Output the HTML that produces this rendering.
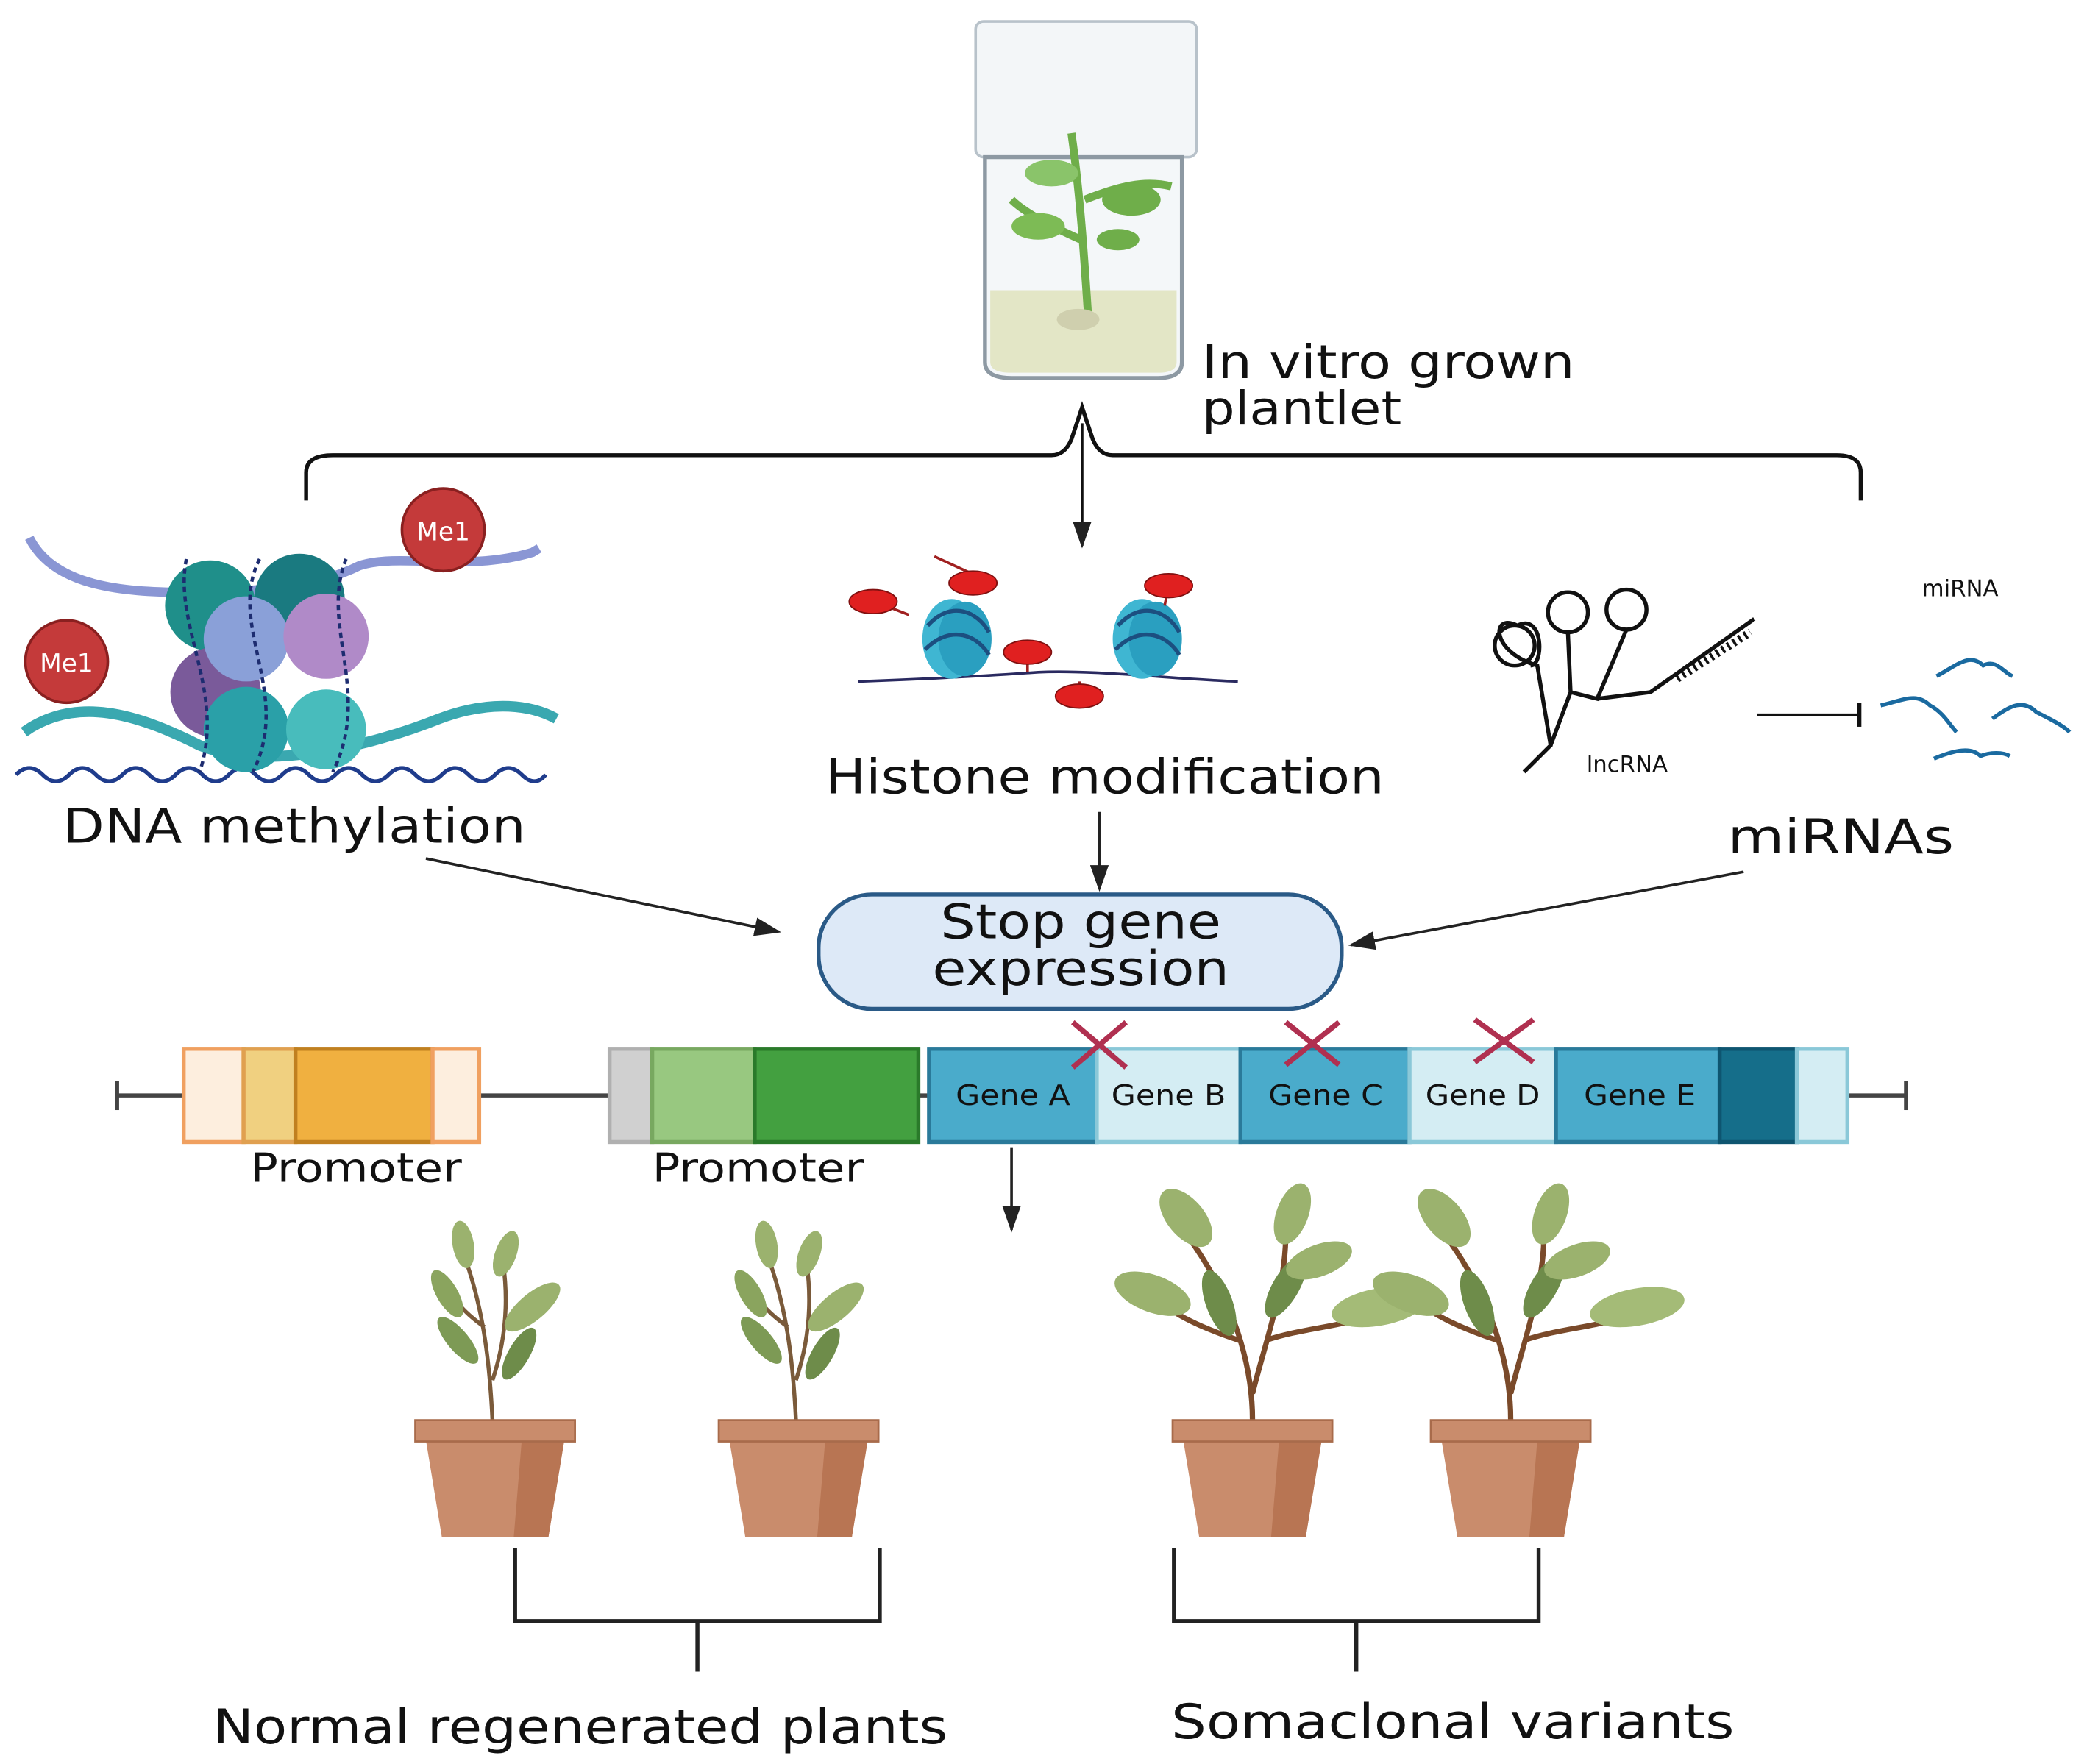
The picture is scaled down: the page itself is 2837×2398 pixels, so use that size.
<!DOCTYPE html>
<html><head><meta charset="utf-8"><style>
html,body{margin:0;padding:0;background:#fff}
svg{display:block}
text{font-family:"DejaVu Sans","Liberation Sans",sans-serif;fill:#111}
</style></head><body>
<svg width="2837" height="2398" viewBox="0 0 1568 1325.3" xmlns="http://www.w3.org/2000/svg">
<defs>
<marker id="ah2" markerWidth="20" markerHeight="14" refX="18" refY="7" orient="auto" markerUnits="userSpaceOnUse" viewBox="0 0 20 14"><path d="M0,0 L20,7 L0,14 z" fill="#222"/></marker>
<g id="pot">
<path d="M-52,15 L52,15 L40,88 L-40,88 z" fill="#c98c6c"/>
<path d="M20,15 L52,15 L40,88 L14,88 z" fill="#b87553"/>
<rect x="-60" y="0" width="120" height="16" fill="#c98c6c" stroke="#a86b4b" stroke-width="1.5"/>
</g>
<g id="small">
<path d="M0,0 C-2,-40 -6,-80 -20,-120 M0,-30 C10,-60 12,-90 8,-118 M-6,-70 C-20,-80 -30,-90 -32,-100" stroke="#7a5a3a" stroke-width="3" fill="none"/>
<ellipse cx="-22" cy="-132" rx="8" ry="18" fill="#9bb26e" transform="rotate(-10 -22 -132)"/>
<ellipse cx="10" cy="-125" rx="8" ry="18" fill="#9bb26e" transform="rotate(20 10 -125)"/>
<ellipse cx="-34" cy="-95" rx="8" ry="20" fill="#8aa45e" transform="rotate(-30 -34 -95)"/>
<ellipse cx="30" cy="-85" rx="10" ry="26" fill="#9bb26e" transform="rotate(50 30 -85)"/>
<ellipse cx="-26" cy="-60" rx="8" ry="22" fill="#7d9a55" transform="rotate(-40 -26 -60)"/>
<ellipse cx="20" cy="-50" rx="8" ry="22" fill="#6e8c4a" transform="rotate(30 20 -50)"/>
</g>
<g id="big">
<path d="M0,0 C0,-50 -20,-100 -50,-140 M0,-20 C10,-60 25,-100 25,-140 M-10,-60 C-40,-70 -60,-80 -70,-90 M10,-60 C40,-70 70,-70 90,-80" stroke="#7a4a2a" stroke-width="4" fill="none"/>
<ellipse cx="-50" cy="-152" rx="14" ry="26" fill="#9bb26e" transform="rotate(-40 -50 -152)"/>
<ellipse cx="30" cy="-155" rx="12" ry="24" fill="#9bb26e" transform="rotate(20 30 -155)"/>
<ellipse cx="-75" cy="-95" rx="14" ry="30" fill="#9bb26e" transform="rotate(-70 -75 -95)"/>
<ellipse cx="95" cy="-85" rx="14" ry="36" fill="#a4bb77" transform="rotate(80 95 -85)"/>
<ellipse cx="-25" cy="-88" rx="10" ry="26" fill="#6e8c4a" transform="rotate(-20 -25 -88)"/>
<ellipse cx="25" cy="-100" rx="10" ry="26" fill="#6e8c4a" transform="rotate(30 25 -100)"/>
<ellipse cx="50" cy="-120" rx="12" ry="26" fill="#9bb26e" transform="rotate(70 50 -120)"/>
</g>
<g id="nuc">
<ellipse cx="0" cy="0" rx="22" ry="30" fill="#3fb6d2"/>
<ellipse cx="10" cy="0" rx="20" ry="28" fill="#2a9fc0"/>
<path d="M-18,-10 C0,-30 20,-20 28,-5 M-20,8 C0,-12 20,-2 28,12" stroke="#1c4f80" stroke-width="3" fill="none"/>
</g>
</defs>

<!-- jar -->
<rect x="733" y="16" width="166" height="102" rx="6" fill="#f3f6f8" stroke="#b8c2ca" stroke-width="2"/>
<path d="M740,118 L740,272 Q740,284 760,284 L870,284 Q888,284 888,272 L888,118 z" fill="#f4f7f9" stroke="#8d99a3" stroke-width="3"/>
<path d="M744,218 L884,218 L884,272 Q884,280 870,280 L760,280 Q744,280 744,272 z" fill="#e3e6c6"/>
<path d="M818,245 C815,200 812,150 805,100 M812,180 C790,170 770,160 760,150 M815,150 C840,140 860,135 880,140" stroke="#6fae4a" stroke-width="6" fill="none"/>
<ellipse cx="780" cy="170" rx="20" ry="10" fill="#7dbb55"/>
<ellipse cx="850" cy="150" rx="22" ry="12" fill="#6fae4a"/>
<ellipse cx="790" cy="130" rx="20" ry="10" fill="#8ac46a"/>
<ellipse cx="840" cy="180" rx="16" ry="8" fill="#6fae4a"/>
<ellipse cx="810" cy="240" rx="16" ry="8" fill="#cfcfae"/>
<text x="903" y="284" font-size="35" textLength="280" lengthAdjust="spacingAndGlyphs">In vitro grown</text>
<text x="903" y="319" font-size="35" textLength="150" lengthAdjust="spacingAndGlyphs">plantlet</text>

<!-- brace -->
<path d="M230,376 L230,355 Q230,342 250,342 L790,342 Q800,342 805,330 L813,306 L821,330 Q826,342 836,342 L1380,342 Q1398,342 1398,355 L1398,376" fill="none" stroke="#111" stroke-width="3"/>
<line x1="813" y1="318" x2="813" y2="410" stroke="#111" stroke-width="2" marker-end="url(#ah2)"/>

<!-- DNA methylation cluster -->
<path d="M22,404 C40,440 90,445 140,445 C200,445 240,440 270,425 C300,415 350,430 400,415 L405,412" fill="none" stroke="#8a96d4" stroke-width="7"/>
<path d="M18,550 C60,520 110,540 150,560 C200,580 280,560 330,540 C370,525 400,530 418,540" fill="none" stroke="#3aa8b0" stroke-width="8"/>
<path d="M12,582 Q22,572 32,582 T52,582 T72,582 T92,582 T112,582 T132,582 T152,582 T172,582 T192,582 T212,582 T232,582 T252,582 T272,582 T292,582 T312,582 T332,582 T352,582 T372,582 T392,582 T410,582" fill="none" stroke="#1f3c8c" stroke-width="3"/>
<circle cx="158" cy="455" r="34" fill="#1f8f8a"/>
<circle cx="225" cy="450" r="34" fill="#1a7a80"/>
<circle cx="162" cy="520" r="34" fill="#7a5a9a"/>
<circle cx="185" cy="480" r="32" fill="#8aa0d8"/>
<circle cx="245" cy="478" r="32" fill="#b08ac8"/>
<circle cx="185" cy="548" r="32" fill="#2aa0a8"/>
<circle cx="245" cy="548" r="30" fill="#48bcbc"/>
<path d="M195,420 C170,470 220,520 190,580 M260,420 C240,470 280,520 250,580 M140,420 C130,470 170,520 150,580" stroke="#1d2c70" stroke-width="2.5" fill="none" stroke-dasharray="4 3"/>
<circle cx="333" cy="398" r="31" fill="#c43a3a" stroke="#8a2020" stroke-width="2"/>
<text x="333" y="406" font-size="19" text-anchor="middle" style="fill:#fff">Me1</text>
<circle cx="50" cy="497" r="31" fill="#c43a3a" stroke="#8a2020" stroke-width="2"/>
<text x="50" y="505" font-size="19" text-anchor="middle" style="fill:#fff">Me1</text>
<text x="47" y="633" font-size="36" textLength="348" lengthAdjust="spacingAndGlyphs">DNA methylation</text>

<!-- Histone -->
<path d="M645,512 C700,510 740,508 780,505 C820,503 880,510 930,512" fill="none" stroke="#2a2a60" stroke-width="2"/>
<use href="#nuc" x="715" y="480"/>
<use href="#nuc" x="858" y="480"/>
<path d="M702,418 L728,430 M683,462 L660,453 M772,490 L772,505 M811,512 L811,522 M878,440 L875,455" stroke="#a02020" stroke-width="2"/>
<ellipse cx="731" cy="438" rx="18" ry="9" fill="#e02020" stroke="#801010"/>
<ellipse cx="656" cy="452" rx="18" ry="9" fill="#e02020" stroke="#801010"/>
<ellipse cx="772" cy="490" rx="18" ry="9" fill="#e02020" stroke="#801010"/>
<ellipse cx="811" cy="523" rx="18" ry="9" fill="#e02020" stroke="#801010"/>
<ellipse cx="878" cy="440" rx="18" ry="9" fill="#e02020" stroke="#801010"/>
<text x="620" y="596" font-size="36" textLength="420" lengthAdjust="spacingAndGlyphs">Histone modification</text>

<!-- lncRNA -->
<g fill="none" stroke="#111" stroke-width="3">
<path d="M1145,580 L1165,560 L1155,500 C1120,490 1120,460 1140,470 C1160,460 1160,500 1150,500"/>
<circle cx="1138" cy="485" r="15"/>
<circle cx="1178" cy="460" r="15"/>
<circle cx="1222" cy="458" r="15"/>
<path d="M1165,560 L1180,520 L1178,475 M1180,520 L1200,525 L1222,473 M1200,525 L1240,520 L1318,465"/>
</g>
<line x1="1260" y1="510" x2="1315" y2="475" stroke="#111" stroke-width="6" stroke-dasharray="2 3"/>
<text x="1192" y="580" font-size="17">lncRNA</text>
<text x="1444" y="448" font-size="17">miRNA</text>
<line x1="1320" y1="537" x2="1396" y2="537" stroke="#111" stroke-width="2"/>
<line x1="1397" y1="528" x2="1397" y2="546" stroke="#111" stroke-width="3"/>
<g fill="none" stroke="#1a6aa0" stroke-width="3">
<path d="M1455,508 C1470,500 1480,490 1490,500 C1500,495 1505,505 1512,508"/>
<path d="M1413,530 C1430,526 1440,520 1450,530 C1460,535 1465,545 1470,550"/>
<path d="M1497,540 C1510,530 1520,525 1530,535 C1540,540 1550,545 1555,550"/>
<path d="M1453,570 C1465,565 1480,560 1488,568 C1495,565 1505,565 1510,568"/>
</g>
<text x="1298" y="641" font-size="36" textLength="170" lengthAdjust="spacingAndGlyphs">miRNAs</text>

<!-- arrows to box -->
<line x1="320" y1="645" x2="585" y2="700" stroke="#222" stroke-width="2" marker-end="url(#ah2)"/>
<line x1="826" y1="610" x2="826" y2="668" stroke="#222" stroke-width="2" marker-end="url(#ah2)"/>
<line x1="1310" y1="655" x2="1015" y2="710" stroke="#222" stroke-width="2" marker-end="url(#ah2)"/>
<rect x="615" y="672" width="393" height="86" rx="40" fill="#dde9f7" stroke="#2a5a87" stroke-width="3"/>
<text x="812" y="705" font-size="36" text-anchor="middle" textLength="211" lengthAdjust="spacingAndGlyphs">Stop gene</text>
<text x="812" y="740" font-size="36" text-anchor="middle" textLength="223" lengthAdjust="spacingAndGlyphs">expression</text>

<!-- gene bar -->
<line x1="88" y1="823" x2="1432" y2="823" stroke="#444" stroke-width="3"/>
<line x1="88" y1="812" x2="88" y2="834" stroke="#444" stroke-width="3"/>
<line x1="1432" y1="812" x2="1432" y2="834" stroke="#444" stroke-width="3"/>
<g stroke-width="3">
<rect x="138" y="788" width="45" height="70" fill="#fdeede" stroke="#f0a060"/>
<rect x="183" y="788" width="39" height="70" fill="#f0d080" stroke="#e0a050"/>
<rect x="222" y="788" width="103" height="70" fill="#f0b040" stroke="#c08020"/>
<rect x="325" y="788" width="35" height="70" fill="#fdeede" stroke="#f0a060"/>
<rect x="458" y="788" width="32" height="70" fill="#d0d0d0" stroke="#b0b0b0"/>
<rect x="490" y="788" width="77" height="70" fill="#98c880" stroke="#78a860"/>
<rect x="567" y="788" width="123" height="70" fill="#43a040" stroke="#2a7a2a"/>
<rect x="698" y="788" width="126" height="70" fill="#4aabcb" stroke="#2a7a9a"/>
<rect x="824" y="788" width="108" height="70" fill="#d4edf3" stroke="#8ac8d8"/>
<rect x="932" y="788" width="127" height="70" fill="#4aabcb" stroke="#2a7a9a"/>
<rect x="1059" y="788" width="110" height="70" fill="#d4edf3" stroke="#8ac8d8"/>
<rect x="1169" y="788" width="123" height="70" fill="#4aabcb" stroke="#2a7a9a"/>
<rect x="1292" y="788" width="58" height="70" fill="#156e8a" stroke="#0e5570"/>
<rect x="1350" y="788" width="38" height="70" fill="#d4edf3" stroke="#8ac8d8"/>
</g>
<g font-size="21" text-anchor="middle">
<text x="761" y="830" textLength="86" lengthAdjust="spacingAndGlyphs">Gene A</text><text x="878" y="830" textLength="86" lengthAdjust="spacingAndGlyphs">Gene B</text><text x="996" y="830" textLength="86" lengthAdjust="spacingAndGlyphs">Gene C</text><text x="1114" y="830" textLength="86" lengthAdjust="spacingAndGlyphs">Gene D</text><text x="1232" y="830" textLength="84" lengthAdjust="spacingAndGlyphs">Gene E</text>
</g>
<g stroke="#b03050" stroke-width="4">
<path d="M806,768 L846,802 M846,768 L806,802"/>
<path d="M966,768 L1006,800 M1006,768 L966,800"/>
<path d="M1108,766 L1152,798 M1152,766 L1108,798"/>
</g>
<text x="188" y="888" font-size="30" textLength="159" lengthAdjust="spacingAndGlyphs">Promoter</text>
<text x="490" y="888" font-size="30" textLength="159" lengthAdjust="spacingAndGlyphs">Promoter</text>
<line x1="760" y1="862" x2="760" y2="924" stroke="#222" stroke-width="2" marker-end="url(#ah2)"/>

<!-- plants -->
<use href="#small" x="370" y="1067"/>
<use href="#small" x="598" y="1067"/>
<use href="#big" x="941" y="1067"/>
<use href="#big" x="1135" y="1067"/>
<use href="#pot" x="372" y="1067"/>
<use href="#pot" x="600" y="1067"/>
<use href="#pot" x="941" y="1067"/>
<use href="#pot" x="1135" y="1067"/>

<g fill="none" stroke="#222" stroke-width="3">
<path d="M387,1163 L387,1218 L661,1218 L661,1163 M524,1218 L524,1256"/>
<path d="M882,1163 L882,1218 L1156,1218 L1156,1163 M1019,1218 L1019,1256"/>
</g>
<text x="160" y="1310" font-size="36" textLength="552" lengthAdjust="spacingAndGlyphs">Normal regenerated plants</text>
<text x="880" y="1306" font-size="36" textLength="423" lengthAdjust="spacingAndGlyphs">Somaclonal variants</text>
</svg>
</body></html>
